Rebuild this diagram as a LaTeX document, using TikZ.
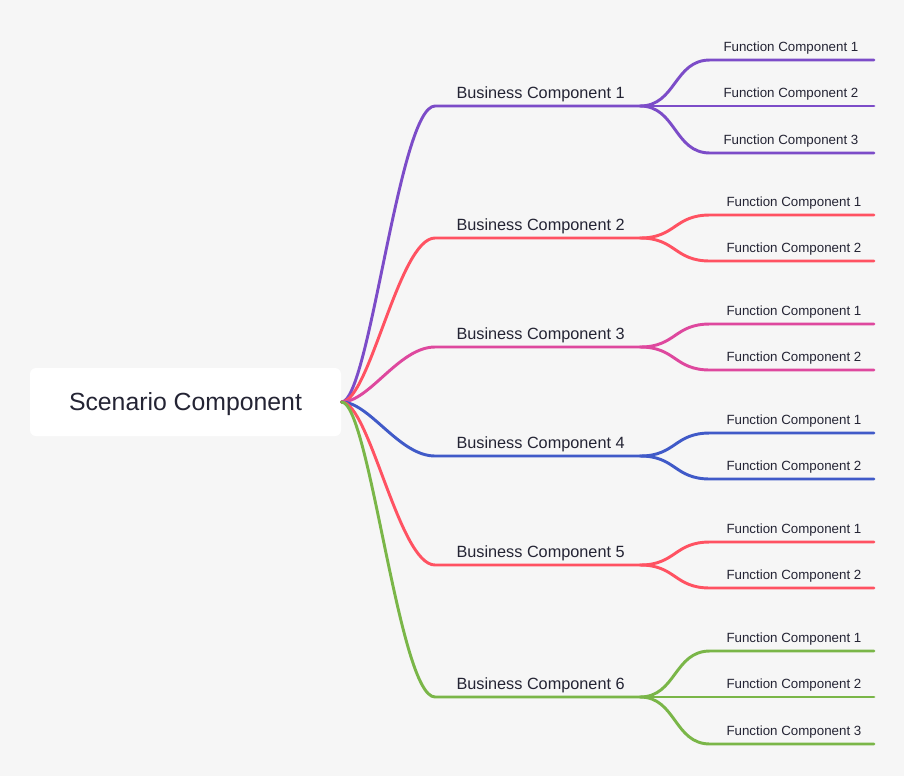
\documentclass[tikz,border=0pt]{standalone}
\usepackage{fontspec}
\setmainfont{Liberation Sans}
\definecolor{bgGray}{RGB}{246,246,246}
\definecolor{txtDark}{RGB}{36,36,52}
\definecolor{cPurple}{RGB}{124,76,200}
\definecolor{cRed}{RGB}{255,82,98}
\definecolor{cPink}{RGB}{222,72,158}
\definecolor{cBlue}{RGB}{64,90,200}
\definecolor{cGreen}{RGB}{122,182,72}

\tikzset{every picture/.style={line width=0.75pt}}
\tikzset{
  rootbox/.style={fill=white,draw=none,rounded corners=4.5pt,minimum width=233.25pt,minimum height=51pt,inner sep=0pt,text depth=0pt,text=txtDark,font=\fontsize{18.6}{20}\selectfont},
  bizlabel/.style={anchor=base west,inner sep=0.75pt,text=txtDark,font=\fontsize{12.2}{14}\selectfont},
  funclabel/.style={anchor=base west,inner sep=0.75pt,text=txtDark,font=\fontsize{10}{12}\selectfont},
  branch/.style={line width=2.2pt,line cap=round}
}

\begin{document}
\begin{tikzpicture}[x=0.75pt,y=0.75pt,yscale=-1,xscale=1]
\fill[bgGray] (0,0) rectangle (904,776);
\useasboundingbox (0,0) rectangle (904,776);

%Root
\node[rootbox] (root) at (185.5,402) {Scenario Component};

%Junction columns
\coordinate (jn) at (640,0);
\coordinate (rim) at (874,0);
%Business ends
\coordinate (b1) at (435,106);
\coordinate (b2) at (435,238);
\coordinate (b3) at (435,347);
\coordinate (b4) at (435,456);
\coordinate (b5) at (435,565);
\coordinate (b6) at (435,697);
%Function ends
\coordinate (f11) at (710,60);
\coordinate (f12) at (710,106);
\coordinate (f13) at (710,153);
\coordinate (f21) at (710,215);
\coordinate (f22) at (710,261);
\coordinate (f31) at (710,324);
\coordinate (f32) at (710,370);
\coordinate (f41) at (710,433);
\coordinate (f42) at (710,479);
\coordinate (f51) at (710,542);
\coordinate (f52) at (710,588);
\coordinate (f61) at (710,651);
\coordinate (f62) at (710,697);
\coordinate (f63) at (710,744);

%Curve Lines - business 1
\draw[branch,cPurple] (root.east) .. controls +(28,0) and +(-36,0) .. (b1) -- (b1 -| jn);
\draw[branch,cPurple] (b1 -| jn) .. controls +(36,0) and +(-36,0) .. (f11) -- (f11 -| rim);
\draw[branch,cPurple] (b1 -| jn) -- (f12) -- (f12 -| rim);
\draw[branch,cPurple] (b1 -| jn) .. controls +(36,0) and +(-36,0) .. (f13) -- (f13 -| rim);
%Curve Lines - business 2
\draw[branch,cRed] (root.east) .. controls +(28,0) and +(-36,0) .. (b2) -- (b2 -| jn);
\draw[branch,cRed] (b2 -| jn) .. controls +(36,0) and +(-36,0) .. (f21) -- (f21 -| rim);
\draw[branch,cRed] (b2 -| jn) .. controls +(36,0) and +(-36,0) .. (f22) -- (f22 -| rim);
%Curve Lines - business 3
\draw[branch,cPink] (root.east) .. controls +(28,0) and +(-36,0) .. (b3) -- (b3 -| jn);
\draw[branch,cPink] (b3 -| jn) .. controls +(36,0) and +(-36,0) .. (f31) -- (f31 -| rim);
\draw[branch,cPink] (b3 -| jn) .. controls +(36,0) and +(-36,0) .. (f32) -- (f32 -| rim);
%Curve Lines - business 4
\draw[branch,cBlue] (root.east) .. controls +(28,0) and +(-36,0) .. (b4) -- (b4 -| jn);
\draw[branch,cBlue] (b4 -| jn) .. controls +(36,0) and +(-36,0) .. (f41) -- (f41 -| rim);
\draw[branch,cBlue] (b4 -| jn) .. controls +(36,0) and +(-36,0) .. (f42) -- (f42 -| rim);
%Curve Lines - business 5
\draw[branch,cRed] (root.east) .. controls +(28,0) and +(-36,0) .. (b5) -- (b5 -| jn);
\draw[branch,cRed] (b5 -| jn) .. controls +(36,0) and +(-36,0) .. (f51) -- (f51 -| rim);
\draw[branch,cRed] (b5 -| jn) .. controls +(36,0) and +(-36,0) .. (f52) -- (f52 -| rim);
%Curve Lines - business 6
\draw[branch,cGreen] (root.east) .. controls +(28,0) and +(-36,0) .. (b6) -- (b6 -| jn);
\draw[branch,cGreen] (b6 -| jn) .. controls +(36,0) and +(-36,0) .. (f61) -- (f61 -| rim);
\draw[branch,cGreen] (b6 -| jn) -- (f62) -- (f62 -| rim);
\draw[branch,cGreen] (b6 -| jn) .. controls +(36,0) and +(-36,0) .. (f63) -- (f63 -| rim);

% Text Node
\node[bizlabel] (biz1) at (455,98.5) {Business Component 1};
\node[bizlabel] (biz2) at (455,230.5) {Business Component 2};
\node[bizlabel] (biz3) at (455,339.5) {Business Component 3};
\node[bizlabel] (biz4) at (455,448.5) {Business Component 4};
\node[bizlabel] (biz5) at (455,557.5) {Business Component 5};
\node[bizlabel] (biz6) at (455,689.5) {Business Component 6};
% Text Node
\node[funclabel] (fn11) at (722,51.5) {Function Component 1};
\node[funclabel] (fn12) at (722,97.5) {Function Component 2};
\node[funclabel] (fn13) at (722,144.5) {Function Component 3};
\node[funclabel] (fn21) at (725,206.5) {Function Component 1};
\node[funclabel] (fn22) at (725,252.5) {Function Component 2};
\node[funclabel] (fn31) at (725,315.5) {Function Component 1};
\node[funclabel] (fn32) at (725,361.5) {Function Component 2};
\node[funclabel] (fn41) at (725,424.5) {Function Component 1};
\node[funclabel] (fn42) at (725,470.5) {Function Component 2};
\node[funclabel] (fn51) at (725,533.5) {Function Component 1};
\node[funclabel] (fn52) at (725,579.5) {Function Component 2};
\node[funclabel] (fn61) at (725,642.5) {Function Component 1};
\node[funclabel] (fn62) at (725,688.5) {Function Component 2};
\node[funclabel] (fn63) at (725,735.5) {Function Component 3};

\end{tikzpicture}
\end{document}
